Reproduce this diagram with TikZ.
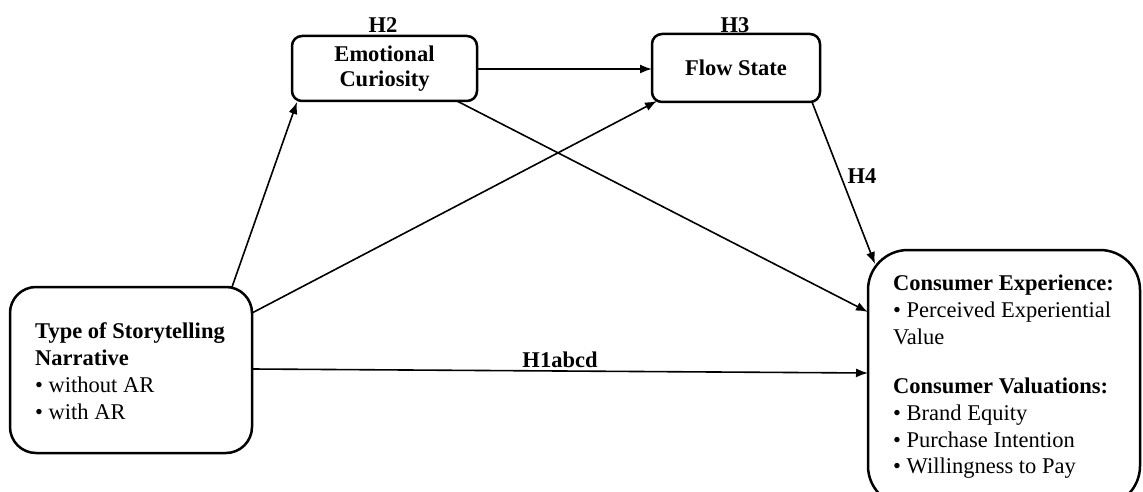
\documentclass[tikz,border=0pt]{standalone}
\usepackage{fontspec}
\setmainfont{Liberation Serif}
\usetikzlibrary{arrows.meta}
\begin{document}
\begin{tikzpicture}[x=1pt,y=-1pt,
  box/.style={draw,line width=2.5pt,rounded corners=#1,inner sep=0pt},
  arr/.style={line width=1.6pt,-{Latex[length=12pt,width=9pt]}},
  lab/.style={font=\fontsize{22.5}{26}\selectfont\bfseries,inner sep=0pt}]
\useasboundingbox (0,0) rectangle (1143,492);
\node[box=26pt,minimum width=242pt,minimum height=166pt] (src) at (131,370) {};
\node[anchor=west,align=left,inner sep=0pt,font=\fontsize{22.5}{27}\selectfont] (srct) at (35,371)
 {\textbf{Type of Storytelling}\\\textbf{Narrative}\\• without AR\\• with AR};
\node[box=10pt,minimum width=185pt,minimum height=65pt,align=center,font=\fontsize{22.5}{25}\selectfont\bfseries] (ec) at (384.5,68.5) {Emotional\\Curiosity};
\node[box=10pt,minimum width=168pt,minimum height=68pt,font=\fontsize{22.5}{26}\selectfont\bfseries] (fs) at (736,68) {Flow State};
\node[box=40pt,minimum width=272pt,minimum height=256pt] (out) at (1004,378) {};
\node[anchor=west,align=left,inner sep=0pt,font=\fontsize{22.5}{26.7}\selectfont] (outt) at (893,377)
 {\textbf{Consumer Experience:}\\• Perceived Experiential\\Value\\[23pt]\textbf{Consumer Valuations:}\\• Brand Equity\\• Purchase Intention\\• Willingness to Pay};
\node[lab] (h2) at (383,25) {H2};
\node[lab] (h3) at (735,25) {H3};
\node[lab] (h4) at (862,176) {H4};
\node[lab] (h1) at (560,360) {H1abcd};
\coordinate (a1s) at (232,287);
\coordinate (a1e) at (297,102);
\draw[arr] (a1s) -- (a1e);
\coordinate (a2s) at (252,313);
\coordinate (a2e) at (657,101);
\draw[arr] (a2s) -- (a2e);
\coordinate (a3s) at (252,369);
\coordinate (a3e) at (868,373);
\draw[arr] (a3s) -- (a3e);
\coordinate (a4s) at (477,69);
\coordinate (a4e) at (652,69);
\draw[arr] (a4s) -- (a4e);
\coordinate (a5s) at (457,101);
\coordinate (a5e) at (868,312);
\draw[arr] (a5s) -- (a5e);
\coordinate (a6s) at (812,102);
\coordinate (a6e) at (875,264);
\draw[arr] (a6s) -- (a6e);
\end{tikzpicture}
\end{document}
